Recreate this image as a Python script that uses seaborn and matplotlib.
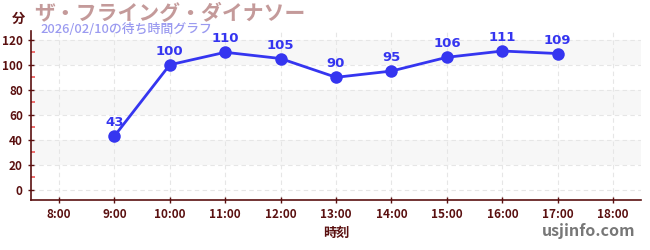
import matplotlib
matplotlib.use("Agg")
import matplotlib.pyplot as plt
import seaborn as sns
import pandas as pd
from matplotlib.ticker import MultipleLocator

hours = [9, 10, 11, 12, 13, 14, 15, 16, 17]
waits = [43, 100, 110, 105, 90, 95, 106, 111, 109]
xtick_hours = [8, 9, 10, 11, 12, 13, 14, 15, 16, 17, 18]
xtick_labels = [f"{h}:00" for h in xtick_hours]
yticks = [0, 20, 40, 60, 80, 100, 120]
title = "ザ・フライング・ダイナソー"
subtitle = "2026/02/10の待ち時間グラフ"

sns.set_theme(style="white")
plt.rcParams['font.family'] = ['Noto Sans CJK JP', 'DejaVu Sans']

df = pd.DataFrame({"hour": hours, "wait": waits})

fig = plt.figure(figsize=(6.5, 2.5), dpi=100)
ax = fig.add_axes([0.048, 0.2, 0.938, 0.676])

dark = "#5a1010"
line_c = "#3535f0"

# background bands
for lo in [20, 60, 100]:
    ax.axhspan(lo, lo + 20, color="#f7f7f7", zorder=0, lw=0)

sns.lineplot(data=df, x="hour", y="wait", ax=ax, color=line_c, lw=2,
             marker="o", markersize=9, markeredgewidth=0, zorder=3)

for h, w in zip(hours, waits):
    ax.annotate(str(w), (h, w), xytext=(0, 5), textcoords="offset points",
                ha="center", va="bottom", fontsize=9.5, fontweight="bold",
                color=line_c, family=['DejaVu Sans'])

ax.set_xlim(7.5, 18.5)
ax.set_ylim(-8, 127)
ax.set_xticks(xtick_hours)
ax.set_xticklabels(xtick_labels)
ax.set_yticks(yticks)
ax.yaxis.set_minor_locator(MultipleLocator(10))
ax.grid(True, which="major", color="#e6e6e6", ls=(0, (4, 3)), lw=0.8)
ax.set_axisbelow(True)

for s in ["top", "right"]:
    ax.spines[s].set_visible(False)
for s in ["left", "bottom"]:
    ax.spines[s].set_color(dark)
    ax.spines[s].set_linewidth(1.2)

ax.tick_params(axis="both", which="major", direction="inout", length=5,
               width=1, color=dark, labelcolor=dark, labelsize=8.5, left=True, bottom=True)
ax.tick_params(axis="y", which="minor", direction="in", length=3, width=1.2,
               color="#ee5555", left=True)
for lbl in ax.get_xticklabels() + ax.get_yticklabels():
    lbl.set_fontweight("bold")

ax.set_xlabel("時刻", color=dark, fontsize=9.5, fontweight="bold", labelpad=3)
ax.set_ylabel("")

fig.text(0.018, 0.925, "分", color=dark, fontsize=9.5, fontweight="bold", ha="left", va="center")
fig.text(0.052, 0.945, title, color="#c49a9a", fontsize=15, fontweight="bold", ha="left", va="center")
fig.text(0.062, 0.882, subtitle, color="#9a9af0", fontsize=9.3, fontweight="medium", ha="left", va="center")
fig.text(0.978, 0.075, "usjinfo.com", color="#777777", fontsize=11.5, fontweight="bold",
         ha="right", va="center")

fig.savefig("out.png", dpi=100)
